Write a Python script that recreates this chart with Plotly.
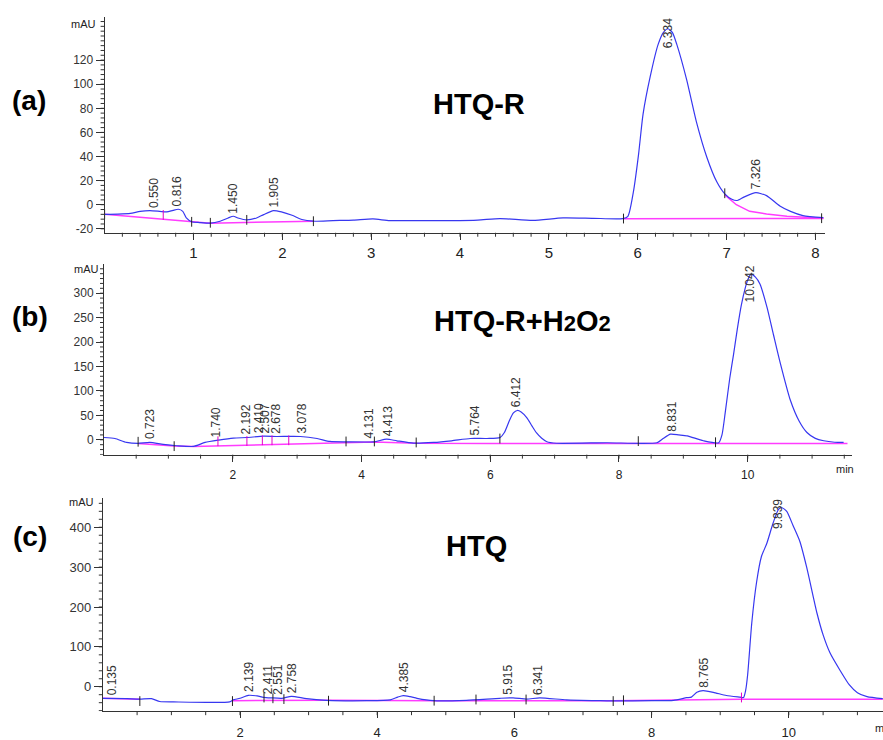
import plotly.graph_objects as go

W, H = 883, 740

# ---------------- (a) HTQ-R ----------------
a_t = [0.00, 0.15, 0.29, 0.40, 0.51, 0.62, 0.70, 0.77, 0.83, 0.88, 0.92, 0.98,
       1.07, 1.19, 1.30, 1.39, 1.45, 1.50, 1.60, 1.71, 1.79, 1.90, 1.99, 2.11,
       2.22, 2.35, 2.57, 2.80, 3.02, 3.21, 3.60, 3.89, 4.20, 4.45, 4.82, 5.16,
       5.50, 5.83, 5.89, 5.95, 6.01, 6.06, 6.14, 6.23, 6.29, 6.34, 6.39, 6.44,
       6.55, 6.66, 6.78, 6.89, 6.98, 7.06, 7.12, 7.20, 7.33, 7.45, 7.60, 7.72,
       7.86, 8.09]
a_sig = [-8.0, -7.8, -7.2, -5.5, -4.9, -5.5, -6.0, -4.7, -3.8, -5.5, -11.0, -14.2,
         -14.8, -15.3, -13.7, -11.0, -9.6, -11.0, -12.6, -11.0, -8.2, -4.9, -6.0, -8.8,
         -12.3, -13.7, -13.2, -12.8, -11.8, -13.2, -13.2, -13.2, -12.8, -11.5, -13.0, -11.0,
         -11.3, -11.5, -9.6, 10.0, 42.0, 75.0, 106.0, 133.0, 143.0, 146.0, 143.0, 133.0,
         104.0, 69.0, 39.0, 19.0, 9.0, 4.5, 3.5, 6.5, 10.0, 7.5, -1.0, -5.5,
         -9.0, -10.8]
a_base_t = [0.00, 0.98, 1.19, 2.35, None, 5.84, 8.09, None,
            6.98, 7.11, 7.26, 7.45, 7.68, 8.02, 8.09]
a_base = [-8.0, -14.3, -15.3, -13.7, None, -11.6, -11.4, None,
          8.2, 0.0, -5.5, -7.7, -9.6, -11.0, -11.3]
a_peak_rt = [0.550, 0.816, 1.450, 1.905, 6.334, 7.326]
a_peak_h = [-4.9, -3.8, -9.6, -4.9, 146.0, 10.0]
a_evt_t = [0.00, 0.66, 0.98, 1.19, 1.60, 2.35, 5.84, 6.98, 8.07]
a_evt_v = [-8.0, -8.5, -14.2, -15.0, -12.6, -13.7, -11.5, 9.5, -11.2]
a_evt_c = ["k", "m", "k", "k", "k", "k", "k", "k", "k"]

# ---------------- (b) HTQ-R + H2O2 ----------------
b_t = [0.00, 0.17, 0.35, 0.53, 0.71, 0.92, 1.13, 1.39, 1.57, 1.78, 2.01, 2.22,
       2.48, 2.68, 3.05, 3.31, 3.51, 3.77, 4.19, 4.39, 4.55, 4.81, 5.12, 5.40,
       5.69, 5.95, 6.15, 6.22, 6.30, 6.36, 6.42, 6.48, 6.57, 6.65, 6.72, 6.80,
       6.88, 7.03, 7.81, 8.59, 8.68, 8.80, 8.93, 9.06, 9.31, 9.55, 9.60, 9.65,
       9.72, 9.78, 9.84, 9.90, 9.96, 10.00, 10.05, 10.12, 10.19, 10.30, 10.40, 10.50,
       10.66, 10.80, 10.92, 11.05, 11.18, 11.35, 11.49]
b_sig = [4.7, 2.7, -5.4, -7.4, -5.4, -9.5, -12.2, -13.5, -5.4, -0.7, 3.4, 4.7,
         7.4, 6.8, 6.8, 2.7, -3.4, -4.1, -4.1, 1.4, -2.0, -6.8, -5.4, -2.0,
         2.7, 2.7, 4.5, 15.0, 40.0, 55.0, 60.0, 57.0, 45.0, 28.0, 14.0, 3.0,
         -4.0, -7.0, -6.0, -6.0, 2.0, 11.5, 10.0, 8.1, -2.0, -6.0, 10.0, 55.0,
         125.0, 175.0, 228.0, 275.0, 310.0, 327.0, 339.0, 333.0, 319.0, 271.0, 215.0, 160.0,
         82.0, 38.0, 15.0, 3.0, -2.0, -5.0, -5.4]
b_base_t = [0.53, 1.09, 1.39, 3.77, 4.20, 4.85, 6.00, 11.55]
b_base = [-7.4, -12.5, -13.5, -5.0, -4.5, -7.0, -7.4, -7.4]
b_peak_rt = [0.723, 1.740, 2.192, 2.410, 2.507, 2.678, 3.078, 4.131, 4.413,
             5.764, 6.412, 8.831, 10.042]
b_peak_h = [-5.4, -1.5, 4.7, 7.4, 7.4, 6.8, 6.8, -3.4, 1.4, 2.7, 60.0, 11.5, 339.0]
b_evt_t = [0.53, 1.09, 1.77, 2.22, 2.46, 2.61, 2.87, 3.76, 4.20, 4.85, 6.15, 8.30, 9.50]
b_evt_v = [-4.0, -13.0, -3.0, -2.5, -1.0, -1.0, -1.0, -3.4, -3.4, -5.4, 2.7, -2.7, -5.0]
b_evt_c = ["k", "k", "m", "m", "m", "m", "m", "k", "k", "k", "k", "k", "k"]

# ---------------- (c) HTQ ----------------
c_t = [0.00, 0.35, 0.54, 0.71, 0.83, 1.03, 1.85, 1.90, 2.00, 2.12, 2.25, 2.34,
       2.46, 2.61, 2.75, 2.97, 3.26, 3.85, 4.19, 4.30, 4.38, 4.48, 4.58, 4.82,
       5.30, 5.79, 5.98, 6.18, 6.37, 6.76, 7.25, 7.44, 8.00, 8.32, 8.51, 8.58,
       8.66, 8.75, 8.90, 9.09, 9.29, 9.34, 9.37, 9.40, 9.46, 9.53, 9.60, 9.68,
       9.77, 9.85, 9.90, 9.97, 10.06, 10.16, 10.26, 10.41, 10.50, 10.60, 10.75, 10.88,
       11.00, 11.14, 11.37]
c_sig = [-29.0, -30.0, -31.0, -30.0, -37.0, -38.0, -38.0, -33.0, -29.0, -21.6, -23.0, -26.5,
         -28.0, -29.0, -24.0, -30.0, -34.0, -35.0, -33.0, -26.0, -22.4, -25.0, -29.0, -35.0,
         -34.0, -29.0, -28.0, -31.0, -28.0, -33.0, -35.0, -35.5, -35.0, -34.0, -27.5, -26.0,
         -14.0, -10.0, -14.0, -22.0, -26.0, -27.0, -10.0, 30.0, 160.0, 262.0, 326.0, 360.0,
         410.0, 445.0, 449.0, 440.0, 405.0, 365.0, 300.0, 185.0, 130.0, 85.0, 40.0, 5.0,
         -15.0, -25.0, -30.0]
c_base_t = [0.00, 0.54, None, 1.89, 3.29, 4.83, 7.44, 9.31, 11.37]
c_base = [-29.0, -31.5, None, -35.0, -34.0, -35.0, -35.0, -31.5, -31.5]
c_peak_rt = [0.135, 2.139, 2.411, 2.551, 2.758, 4.385, 5.915, 6.341, 8.765, 9.839]
c_peak_h = [-29.0, -21.6, -27.0, -28.0, -24.0, -22.4, -29.0, -29.0, -10.0, 449.0]
c_evt_t = [0.54, 1.89, 2.35, 2.48, 2.64, 3.29, 4.83, 5.44, 6.17, 7.44, 7.59, 9.31]
c_evt_v = [-36.0, -36.0, -27.0, -29.0, -31.0, -35.0, -35.0, -32.0, -32.0, -36.0, -34.0, -27.0]
c_evt_c = ["k", "k", "k", "k", "k", "k", "k", "k", "k", "k", "k", "m"]

# axis ticks: labelled major ticks and unlabelled minor step per panel
a_xticks = [1, 2, 3, 4, 5, 6, 7, 8]
a_yticks = [-20, 0, 20, 40, 60, 80, 100, 120]
b_xticks = [2, 4, 6, 8, 10]
b_yticks = [0, 50, 100, 150, 200, 250, 300]
c_xticks = [2, 4, 6, 8, 10]
c_yticks = [0, 100, 200, 300, 400]
minor_x_step = [0.2, 0.5, 0.5]
minor_y_step = [4, 10, 20]

panel_titles = ["HTQ-R",
                "HTQ-R+H<span style=\"font-size:22px\">2</span>O<span style=\"font-size:22px\">2</span>",
                "HTQ"]
panel_tags = ["(a)", "(b)", "(c)"]

BLUE = "rgb(55,55,240)"
MAGENTA = "rgb(255,60,255)"
AXC = "#333333"
EVT_COL = {"k": "#222222", "m": "rgb(230,0,200)"}
FONT = "Liberation Sans, Arial, sans-serif"
NARROW = "Liberation Sans Narrow, Liberation Sans, Arial, sans-serif"


def px_x(p):
    return p / W


def px_y(p):
    return 1 - p / H


def steps(lo, hi, d):
    """Multiples of d lying inside [lo, hi]."""
    import math
    j0 = math.ceil(lo / d - 1e-9)
    j1 = math.floor(hi / d + 1e-9)
    return [round(j * d, 6) for j in range(j0, j1 + 1)]


# panel geometry in page pixels: left, right, top, bottom
geom = [
    dict(l=104.6, r=825.0, t=17.0, b=235.0, xr=[0, 8.108], yr=[-23.3, 155.9]),
    dict(l=104.0, r=852.0, t=267.0, b=459.0, xr=[0, 11.62], yr=[-30.4, 358.8]),
    dict(l=102.8, r=883.0, t=503.0, b=718.0, xr=[0, 11.373], yr=[-61.4, 472.8]),
]

panels = [
    (a_t, a_sig, a_base_t, a_base, a_peak_rt, a_peak_h, a_evt_t, a_evt_v, a_evt_c),
    (b_t, b_sig, b_base_t, b_base, b_peak_rt, b_peak_h, b_evt_t, b_evt_v, b_evt_c),
    (c_t, c_sig, c_base_t, c_base, c_peak_rt, c_peak_h, c_evt_t, c_evt_v, c_evt_c),
]

fig = go.Figure()
annotations = []
shapes = []

for i, (t, s, bt, bv, prt, ph, et, ev, ec) in enumerate(panels):
    k = "" if i == 0 else str(i + 1)
    xa, ya = "x" + k, "y" + k
    # baseline (integration) first, signal drawn over it
    fig.add_trace(go.Scatter(x=bt, y=bv, mode="lines", xaxis=xa, yaxis=ya,
                             line=dict(color=MAGENTA, width=1.5), connectgaps=False,
                             hoverinfo="skip", showlegend=False))
    fig.add_trace(go.Scatter(x=t, y=s, mode="lines", xaxis=xa, yaxis=ya,
                             line=dict(color=BLUE, width=1.2, shape="spline", smoothing=0.6),
                             showlegend=False))
    fig.add_trace(go.Scatter(x=et, y=ev, mode="markers", xaxis=xa, yaxis=ya,
                             marker=dict(symbol="line-ns", size=7,
                                         line=dict(width=1, color=[EVT_COL[c] for c in ec])),
                             hoverinfo="skip", showlegend=False))

    g = geom[i]
    ppu = (g["b"] - g["t"]) / (g["yr"][1] - g["yr"][0])
    for rt, h in zip(prt, ph):
        label = f"{rt:.3f}"
        length_px = 6.3 * len(label) + 4
        pinned = (g["yr"][1] - h) * ppu < length_px + 4
        annotations.append(dict(
            x=rt, y=g["yr"][1] if pinned else h, xref=xa, yref=ya,
            text=label, textangle=-90, showarrow=False,
            yanchor="top" if pinned else "bottom", xanchor="center",
            yshift=0 if pinned else 2, borderpad=0,
            font=dict(family=FONT, size=12, color="#333333")))

    # minor ticks along both axes of the panel
    for v in steps(g["xr"][0] + 1e-6, g["xr"][1], minor_x_step[i]):
        shapes.append(dict(type="line", xref=xa, yref="paper", x0=v, x1=v,
                           y0=px_y(g["b"]), y1=px_y(g["b"] + 4),
                           line=dict(color=AXC, width=1)))
    for v in steps(g["yr"][0], g["yr"][1], minor_y_step[i]):
        shapes.append(dict(type="line", xref="paper", yref=ya, y0=v, y1=v,
                           x0=px_x(g["l"]), x1=px_x(g["l"] - 4),
                           line=dict(color=AXC, width=1)))


def y_axis(i, labels, size, ticklen):
    g = geom[i]
    return dict(domain=[px_y(g["b"]), px_y(g["t"])], range=g["yr"], anchor="x" + ("" if i == 0 else str(i + 1)),
                showline=True, linecolor=AXC, linewidth=1, ticks="outside", ticklen=ticklen,
                tickcolor=AXC, tickwidth=1, tickmode="array", tickvals=labels,
                ticktext=[str(v) for v in labels], showgrid=False, zeroline=False,
                tickfont=dict(family=FONT, size=size, color="#333333"),
                fixedrange=True)


def x_axis(i, labels, size, family, standoff, ticklen):
    g = geom[i]
    return dict(domain=[px_x(g["l"]), px_x(g["r"])], range=g["xr"], anchor="y" + ("" if i == 0 else str(i + 1)),
                showline=True, linecolor=AXC, linewidth=1, ticks="outside", ticklen=ticklen,
                tickcolor=AXC, tickwidth=1, tickmode="array", tickvals=labels,
                ticktext=[str(v) for v in labels], showgrid=False, zeroline=False,
                tickfont=dict(family=family, size=size, color="#222222"),
                ticklabelstandoff=standoff,
                fixedrange=True)


layout = dict(
    width=W, height=H, margin=dict(l=0, r=0, t=0, b=0),
    paper_bgcolor="white", plot_bgcolor="white", showlegend=False,
    xaxis=x_axis(0, a_xticks, 15, NARROW, 0, 6),
    yaxis=y_axis(0, a_yticks, 12, 8),
    xaxis2=x_axis(1, b_xticks, 12, FONT, 3, 6),
    yaxis2=y_axis(1, b_yticks, 12, 7),
    xaxis3=x_axis(2, c_xticks, 13, FONT, 3, 6),
    yaxis3=y_axis(2, c_yticks, 13, 8),
)

# unit labels
for (xc, yc, txt) in [(83, 24, "mAU"), (86, 272, "mAU"), (81, 507, "mAU"),
                      (845, 473, "min"), (873, 735, "min")]:
    annotations.append(dict(x=px_x(xc), y=px_y(yc), xref="paper", yref="paper",
                            text=txt, showarrow=False,
                            xanchor="left" if txt == "min" and xc > 860 else "center",
                            yanchor="middle",
                            font=dict(family=NARROW, size=11, color="#222222")))

# panel tags and sample names
for (xc, yc), tag in zip([(29, 101), (30, 320), (29.5, 542)], panel_tags):
    annotations.append(dict(x=px_x(xc), y=px_y(yc), xref="paper", yref="paper", text=f"<b>{tag}</b>",
                            showarrow=False, xanchor="center", yanchor="middle",
                            font=dict(family=FONT, size=28, color="black")))
for (xc, yc), name in zip([(479, 104.5), (522, 324.5), (476, 551)], panel_titles):
    annotations.append(dict(x=px_x(xc), y=px_y(yc), xref="paper", yref="paper", text=f"<b>{name}</b>",
                            showarrow=False, xanchor="center", yanchor="middle",
                            font=dict(family=FONT, size=29, color="black")))

layout["annotations"] = annotations
layout["shapes"] = shapes
fig.update_layout(**layout)
fig.write_html("out.html")
